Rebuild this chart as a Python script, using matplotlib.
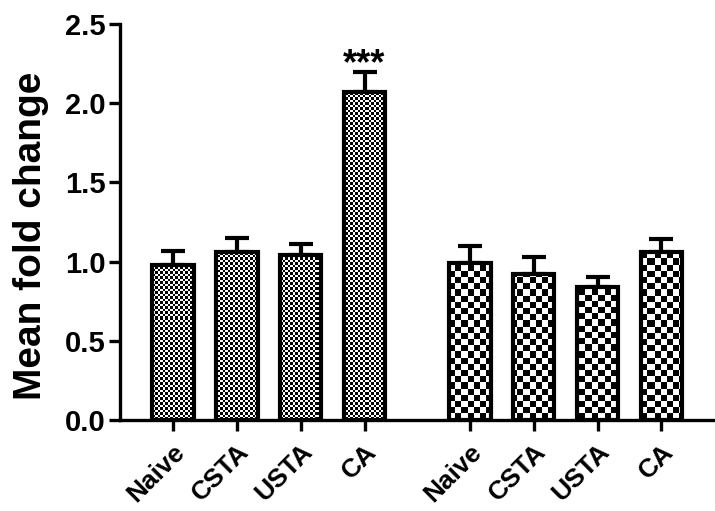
import numpy as np
import matplotlib
matplotlib.use('Agg')
import matplotlib.pyplot as plt

# --- data ---
labels = ["Naive", "CSTA", "USTA", "CA", "Naive", "CSTA", "USTA", "CA"]
positions = [0, 1, 2, 3, 4.65, 5.65, 6.65, 7.65]
means = [0.98, 1.06, 1.04, 2.07, 0.99, 0.92, 0.84, 1.06]
errors = [0.09, 0.09, 0.07, 0.13, 0.11, 0.11, 0.06, 0.08]
group = [0, 0, 0, 0, 1, 1, 1, 1]   # 0 = fine checker, 1 = coarse checker
yticks = [0.0, 0.5, 1.0, 1.5, 2.0, 2.5]

plt.rcParams['font.family'] = ['Liberation Sans', 'DejaVu Sans']
plt.rcParams['font.weight'] = 'bold'

W, H = 715, 511
fig = plt.figure(figsize=(W / 100, H / 100), dpi=100)
ax = fig.add_axes([120 / W, 91 / H, 595 / W, 396 / H])

xlim = (-0.83, 8.49)
ylim = (0, 2.5)


def checker(cell):
    # pixel-sized checkerboard over the whole axes area
    ii, jj = np.mgrid[0:396, 0:595]
    return ((np.floor(ii / cell) + np.floor(jj / cell)) % 2).astype(float)


patterns = [checker(2.5), checker(6.2)]

bars = ax.bar(positions, means, width=0.65, facecolor='none', edgecolor='black',
              linewidth=3.0, zorder=3)
ax.errorbar(positions, means, yerr=[np.zeros(len(errors)), errors], fmt='none',
            ecolor='black', elinewidth=3, capsize=8.5, capthick=3, zorder=2)

for b, g in zip(bars, group):
    im = ax.imshow(patterns[g], cmap='gray', vmin=0, vmax=1, extent=(*xlim, *ylim),
                   origin='lower', interpolation='nearest', aspect='auto', zorder=2.5)
    im.set_clip_path(b)

# significance stars above CA
ax.text(positions[3], means[3] + errors[3] - 0.07, "***", ha='center', va='bottom',
        fontsize=26, fontweight='bold')

ax.set_xlim(*xlim)
ax.set_ylim(*ylim)
ax.set_yticks(yticks)
ax.set_yticklabels([f"{v:.1f}" for v in yticks])
ax.set_xticks(positions)
ax.set_xticklabels(labels, rotation=45, ha='right', rotation_mode='anchor')

for s in ['top', 'right']:
    ax.spines[s].set_visible(False)
for s in ['left', 'bottom']:
    ax.spines[s].set_linewidth(2.4)

ax.tick_params(axis='both', width=2.4, length=8)
ax.tick_params(axis='y', labelsize=21, pad=2)
ax.tick_params(axis='x', labelsize=19, pad=6)
for t in ax.get_xticklabels() + ax.get_yticklabels():
    t.set_fontweight('bold')

ax.set_ylabel("Mean fold change", fontsize=28, fontweight='bold')
ax.yaxis.set_label_coords(-0.12, 0.465)

fig.savefig("out.png", dpi=100)
